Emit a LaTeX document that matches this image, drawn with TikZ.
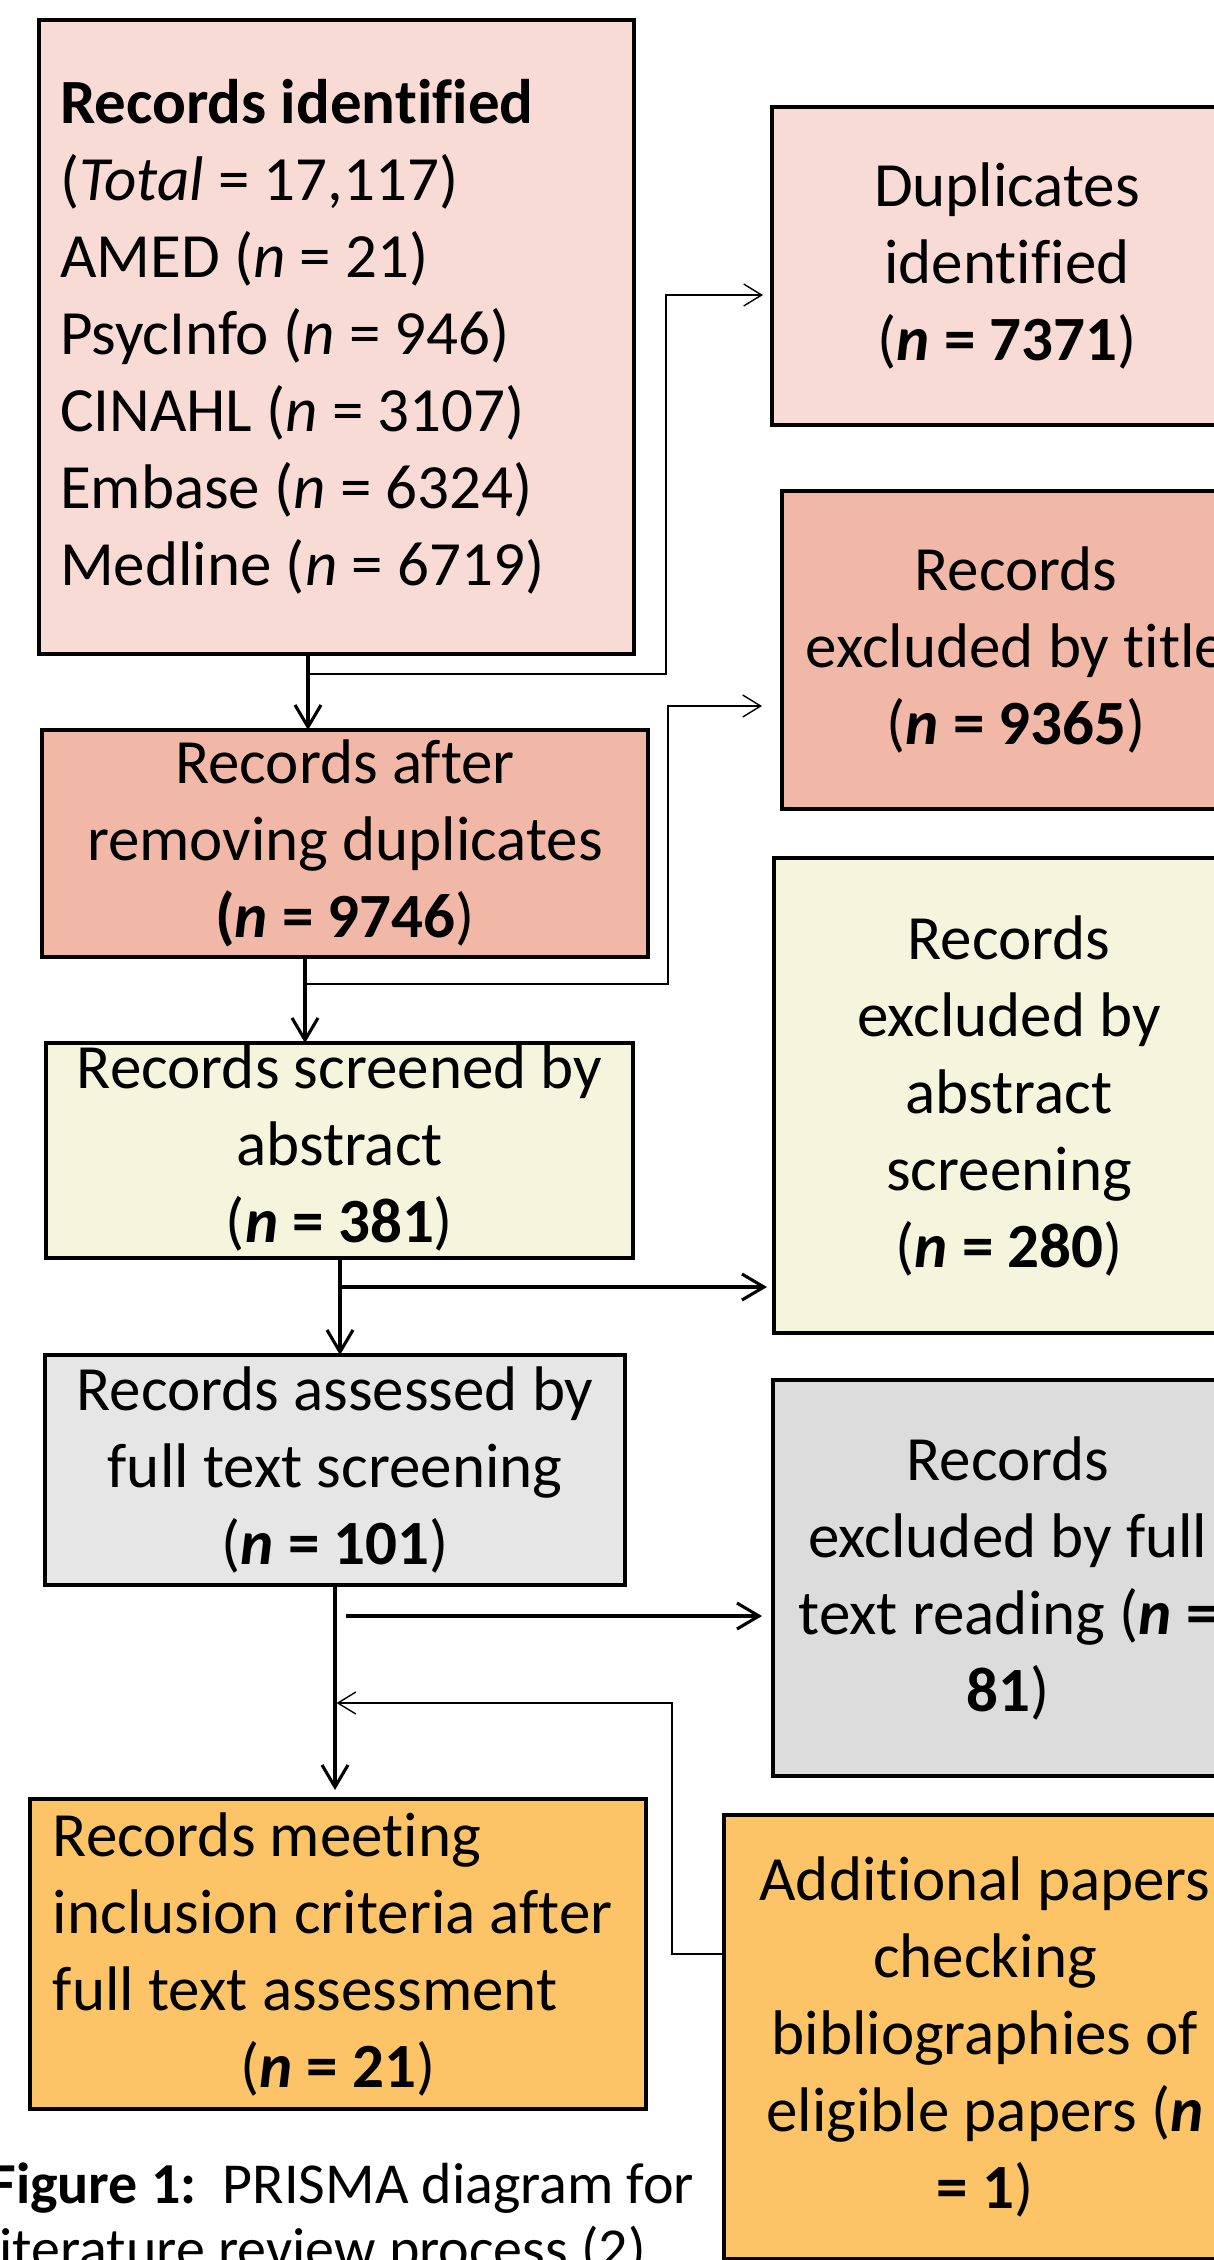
\documentclass[tikz,border=0pt]{standalone}
\usepackage{fontspec}
\setmainfont{Carlito}[Ligatures=NoCommon]
\usetikzlibrary{arrows.meta}
\definecolor{pinkA}{HTML}{F9DBD5}
\definecolor{salmonA}{HTML}{F1B8A8}
\definecolor{creamA}{HTML}{F5F4DC}
\definecolor{grayA}{HTML}{E6E6E6}
\definecolor{grayB}{HTML}{DCDCDC}
\definecolor{orangeA}{HTML}{FCC466}
\begin{document}
\begin{tikzpicture}[x=0.5pt,y=-0.5pt,
  box/.style={draw=black, line width=1.65pt, rectangle, anchor=north west,
    inner sep=0pt, outer sep=0pt, align=center,
    font=\fontsize{31.5pt}{38.5pt}\selectfont},
  thickarr/.style={line width=1.55pt, -{Straight Barb[length=11pt,width=13pt]}},
  thinarr/.style={line width=0.7pt, -{Straight Barb[length=9pt,width=11pt]}},
  capt/.style={anchor=base west, inner sep=0pt, font=\fontsize{29pt}{32.5pt}\selectfont}]
\useasboundingbox (0,0) rectangle (1214,2260);
\fill[white] (0,0) rectangle (1214,2260);
\clip (0,0) rectangle (1214,2260);

% boxes
\node[box, fill=pinkA, minimum width=297.5pt, minimum height=317pt, align=left,
      text width=276.5pt, inner xsep=10.5pt] (id) at (39,20)
  {\spaceskip=0pt\xspaceskip=0pt\relax
   \textbf{Records identified}\\(\textit{Total} = 17,117)\\AMED (\textit{n} = 21)\\PsycInfo (\textit{n} = 946)\\CINAHL (\textit{n} = 3107)\\Embase (\textit{n} = 6324)\\Medline (\textit{n} = 6719)};
\node[box, fill=pinkA, minimum width=235pt, minimum height=159pt] (dup) at (772,107)
  {Duplicates\\identified\\(\textbf{\textit{n} = 7371})};
\node[box, fill=salmonA, minimum width=234pt, minimum height=159pt] (tit) at (782,491)
  {Records\\excluded by title\\(\textbf{\textit{n} = 9365})};
\node[box, fill=salmonA, minimum width=303pt, minimum height=113.5pt] (rem) at (42,730)
  {Records after\\removing duplicates\\\textbf{(\textit{n} = 9746})};
\node[box, fill=creamA, minimum width=293.5pt, minimum height=102.5pt] (scr) at (46,1043)
  {\raisebox{0pt}[\dimexpr\height-4pt\relax][\dimexpr\depth-4pt\relax]{\begin{tabular}{@{}c@{}}Records screened by\\abstract\\(\textbf{\textit{n} = 381})\end{tabular}}};
\node[box, fill=creamA, minimum width=235pt, minimum height=237.5pt] (abs) at (774,858)
  {Records\\excluded by\\abstract\\screening\\(\textbf{\textit{n} = 280})};
\node[box, fill=grayA, minimum width=290pt, minimum height=115pt] (ass) at (45,1355)
  {Records assessed by\\full text screening\\(\textbf{\textit{n} = 101})};
\node[box, fill=grayB, minimum width=235pt, minimum height=198pt] (ful) at (773,1380)
  {Records\\excluded by full\\text reading (\textbf{\textit{n} =}\\\textbf{81})};
\node[box, fill=orangeA, minimum width=308pt, minimum height=155pt, align=left,
      text width=285pt, inner xsep=11.5pt] (met) at (30,1799)
  {\spaceskip=0pt\xspaceskip=0pt\relax
   \mbox{Records meeting}\\\mbox{inclusion criteria after}\\\mbox{full text assessment}\\\makebox[285pt]{(\textbf{\textit{n} = 21})}};
\node[box, fill=orangeA, minimum width=261pt, minimum height=222pt] (add) at (724,1815)
  {Additional papers\\checking\\bibliographies of\\eligible papers (\textbf{\textit{n}}\\\textbf{= 1})};

% caption
\node[capt] (cap1) at (-11,2203) {\textbf{Figure 1:}\ \ PRISMA diagram for};
\node[capt] (cap2) at (-14,2268) {literature review process (2)};

% junction points
\coordinate (s1) at (308,674);
\coordinate (b1) at (666,295);
\coordinate (s2) at (305,984);
\coordinate (b2) at (668,706);
\coordinate (s3) at (340,1287);
\coordinate (s4) at (335,1703);
\coordinate (b4) at (346,1616);
\coordinate (r1) at (672,1954);

% connectors
\draw[thickarr] (id.south -| s1) -- (rem.north -| s1);
\draw[thinarr] (s1) -| (b1) -- ([xshift=-4.5pt]dup.west |- b1);
\draw[thickarr] (rem.south -| s2) -- (scr.north -| s2);
\draw[thinarr] (s2) -| (b2) -- ([xshift=-10pt]tit.west |- b2);
\draw[thickarr] (scr.south -| s3) -- (ass.north -| s3);
\draw[thickarr] (s3) -- ([xshift=-3.5pt]abs.west |- s3);
\draw[thickarr] (ass.south -| s4) -- ([yshift=4.5pt]met.north -| s4);
\draw[thickarr] (b4) -- ([xshift=-5.5pt]ful.west |- b4);
\draw[thinarr] (add.west |- r1) -- (r1) |- ([xshift=0.75pt]s4);
\end{tikzpicture}
\end{document}
